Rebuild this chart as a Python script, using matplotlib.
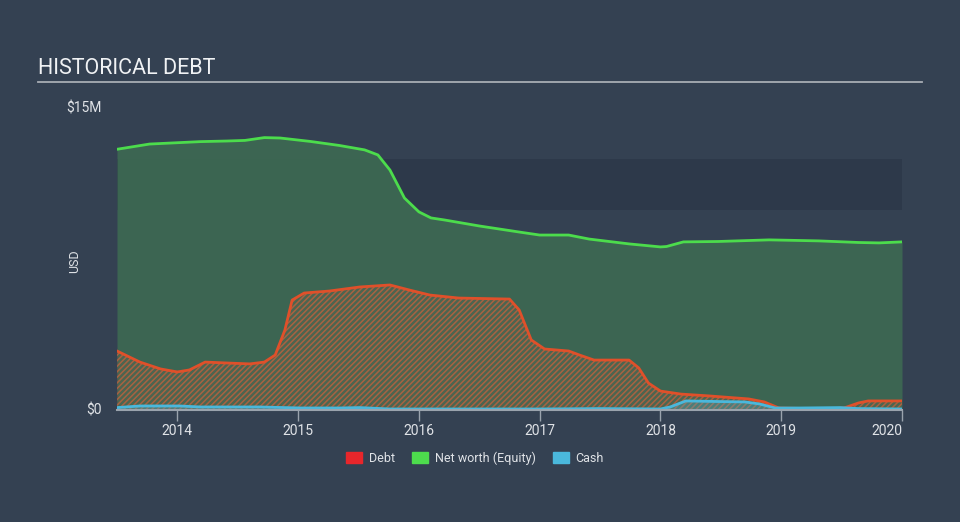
import matplotlib.pyplot as plt
import matplotlib.lines as mlines
import matplotlib.patches as mpatches

plt.rcParams['font.family'] = ['Roboto', 'DejaVu Sans']
plt.rcParams['hatch.linewidth'] = 1.1

# values in $M, x in decimal years
equity_t = [2013.5, 2013.77, 2014.19, 2014.41, 2014.56, 2014.72, 2014.85, 2015.1, 2015.34,
            2015.55, 2015.66, 2015.76, 2015.88, 2016.0, 2016.1, 2016.21, 2016.5, 2016.83,
            2017.0, 2017.24, 2017.41, 2017.74, 2018.0, 2018.05, 2018.19, 2018.48, 2018.9,
            2019.31, 2019.64, 2019.81, 2020.0]
equity = [12.95, 13.21, 13.33, 13.36, 13.39, 13.53, 13.51, 13.34, 13.14,
          12.92, 12.67, 11.92, 10.53, 9.84, 9.54, 9.44, 9.14, 8.84,
          8.69, 8.69, 8.49, 8.25, 8.10, 8.12, 8.35, 8.37, 8.45,
          8.40, 8.32, 8.30, 8.35]

debt_t = [2013.5, 2013.69, 2013.86, 2014.0, 2014.1, 2014.23, 2014.43, 2014.6, 2014.72,
          2014.81, 2014.89, 2014.95, 2015.05, 2015.26, 2015.51, 2015.76, 2015.92, 2016.09,
          2016.33, 2016.75, 2016.83, 2016.93, 2017.04, 2017.24, 2017.33, 2017.45, 2017.74,
          2017.82, 2017.9, 2018.0, 2018.17, 2018.4, 2018.73, 2018.86, 2018.98, 2019.39,
          2019.52, 2019.64, 2019.72, 2020.0]
debt = [2.93, 2.38, 2.04, 1.89, 1.99, 2.38, 2.33, 2.29, 2.38,
        2.73, 3.97, 5.46, 5.81, 5.91, 6.11, 6.21, 5.96, 5.71,
        5.56, 5.51, 4.97, 3.48, 3.03, 2.93, 2.73, 2.48, 2.48,
        2.09, 1.34, 0.94, 0.79, 0.70, 0.55, 0.40, 0.10, 0.05,
        0.10, 0.35, 0.45, 0.45]

cash_t = [2013.5, 2013.69, 2014.02, 2014.19, 2014.68, 2015.02, 2015.35, 2015.51, 2015.76,
          2017.0, 2017.5, 2018.0, 2018.08, 2018.21, 2018.49, 2018.7, 2018.82, 2018.95,
          2019.16, 2019.49, 2019.64, 2020.0]
cash = [0.12, 0.2, 0.2, 0.15, 0.15, 0.1, 0.1, 0.12, 0.05,
        0.05, 0.07, 0.05, 0.15, 0.45, 0.42, 0.4, 0.3, 0.1,
        0.1, 0.12, 0.07, 0.05]

years = [2014, 2015, 2016, 2017, 2018, 2019, 2020]

bg = '#344152'
fig = plt.figure(figsize=(9.6, 5.22), dpi=100, facecolor=bg)
ax = fig.add_axes([117 / 960, 1 - 410 / 522, 785 / 960, 302 / 522])
ax.set_facecolor(bg)

# darker band
ax.axhspan(9.95, 12.45, color='#2d394a', zorder=0, lw=0)

ax.fill_between(equity_t, 0, equity, color='#3d6a52', alpha=0.9, lw=0, zorder=1)
ax.plot(equity_t, equity, color='#4cdc4c', lw=2, zorder=4)

ax.fill_between(debt_t, 0, debt, facecolor=(0.42, 0.40, 0.30, 0.35),
                edgecolor=(0.78, 0.38, 0.24, 0.75), hatch='//////', lw=0, zorder=2)
ax.plot(debt_t, debt, color='#e0502a', lw=2, zorder=4)

ax.fill_between(cash_t, 0, cash, color='#4ab8dc', alpha=0.3, lw=0, zorder=3)
ax.plot(cash_t, cash, color='#4ab8dc', lw=2, zorder=5)

ax.set_xlim(2013.5, 2020.0)
ax.set_ylim(0, 15)
for s in ['top', 'right', 'left']:
    ax.spines[s].set_visible(False)
ax.spines['bottom'].set_color('#9aa3ad')
ax.spines['bottom'].set_linewidth(1.5)
ax.spines['bottom'].set_zorder(6)

ax.set_xticks(years)
ax.set_xticklabels([str(y) for y in years])
ax.tick_params(axis='x', colors='#9aa3ad', length=8, width=1, labelsize=10, labelcolor='#e0e3e7', pad=2)
labels = ax.get_xticklabels()
labels[-1].set_horizontalalignment('right')
ax.set_yticks([])

fig.text(102 / 960, 1 - 410 / 522, '$0', color='#e0e3e7', fontsize=10, ha='right', va='center')
fig.text(102 / 960, 1 - 108 / 522, '$15M', color='#e0e3e7', fontsize=10, ha='right', va='center')
fig.text(75 / 960, 1 - 261 / 522, 'USD', color='#e0e3e7', fontsize=9, rotation=90, ha='center', va='center')

fig.text(38 / 960, 1 - 69 / 522, 'HISTORICAL DEBT', color='#f0f2f4', fontsize=15.5, ha='left', va='center')
fig.add_artist(mlines.Line2D([38 / 960, 922 / 960], [1 - 81.5 / 522] * 2, color='#a8adb4', lw=1.3))

handles = [mpatches.Patch(color='#e8262b', label='Debt'),
           mpatches.Patch(color='#4ddc4d', label='Net worth (Equity)'),
           mpatches.Patch(color='#4ab8dc', label='Cash')]
leg = fig.legend(handles=handles, loc='center', bbox_to_anchor=(475 / 960, 1 - 458 / 522), ncol=3,
                 frameon=False, fontsize=9, labelcolor='#e0e3e7', handlelength=1.3, handleheight=1.0,
                 columnspacing=1.4, handletextpad=0.5)

plt.savefig('out.png', dpi=100, facecolor=bg)
